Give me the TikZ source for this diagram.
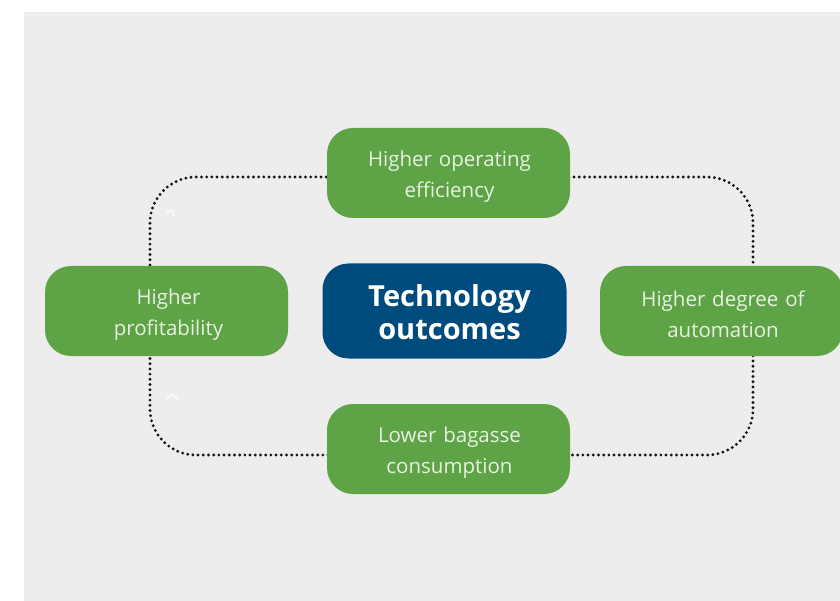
\documentclass[tikz,border=0pt]{standalone}
\usepackage{fontspec}
\setmainfont{Open Sans}
\definecolor{bggray}{HTML}{EDEDED}
\definecolor{boxgreen}{HTML}{5EA346}
\definecolor{boxblue}{HTML}{004B7D}
\definecolor{txtlight}{HTML}{E8F1E2}
\definecolor{dotcol}{HTML}{151515}
\tikzset{
  outbox/.style={fill=boxgreen, draw=none, rounded corners=26pt, minimum width=243pt, minimum height=90pt, inner sep=0pt},
  outtext/.style={text width=236pt, align=center, text=txtlight, font=\fontsize{20.5}{31}\selectfont, inner sep=0pt},
  corebox/.style={fill=boxblue, draw=none, rounded corners=26pt, minimum width=244pt, minimum height=95pt, inner sep=0pt},
  coretext/.style={text width=236pt, align=center, text=white, font=\bfseries\fontsize{29}{33}\selectfont, inner sep=0pt},
  loopline/.style={draw=dotcol, line width=3.2pt, line cap=round, dash pattern=on 0pt off 5.2pt, rounded corners=46pt},
  tick/.style={draw=white, line width=1.1pt}
}
\begin{document}
\begin{tikzpicture}[x=1pt,y=-1pt]
\useasboundingbox (0,0) rectangle (840,601);
\fill[bggray] (24,12) rectangle (840,601);
% loop corners
\coordinate (tl) at (150,177);
\coordinate (tr) at (753,177);
\coordinate (br) at (753,455);
\coordinate (bl) at (150,455);
\draw[loopline] (450,177) -- (tr) -- (br) -- (bl) -- (tl) -- cycle;
% chevrons
\draw[tick] (166,212) -- (172,211) -- (174,217);
\draw[tick] (167,399) -- (172,394) -- (178,399);
% nodes
\node[outbox] (top) at (448.5,173) {};
\node[outbox] (left) at (166.5,311) {};
\node[outbox] (right) at (721.5,311) {};
\node[outbox] (bottom) at (448.5,449) {};
\node[corebox] (core) at (444.5,311) {};
\node[outtext] (toptext) at ([xshift=1pt,yshift=-3.5pt]top.center) {Higher operating\\efficiency};
\node[outtext] (lefttext) at ([xshift=2pt,yshift=-3.5pt]left.center) {Higher\\profitability};
\node[outtext] (righttext) at ([xshift=1.5pt,yshift=-3.5pt]right.center) {Higher degree of\\automation};
\node[outtext] (bottomtext) at ([xshift=1pt,yshift=-3.5pt]bottom.center) {Lower bagasse\\consumption};
\node[coretext] (coretxt) at ([xshift=5pt,yshift=-1.5pt]core.center) {Technology\\outcomes};
\end{tikzpicture}
\end{document}
